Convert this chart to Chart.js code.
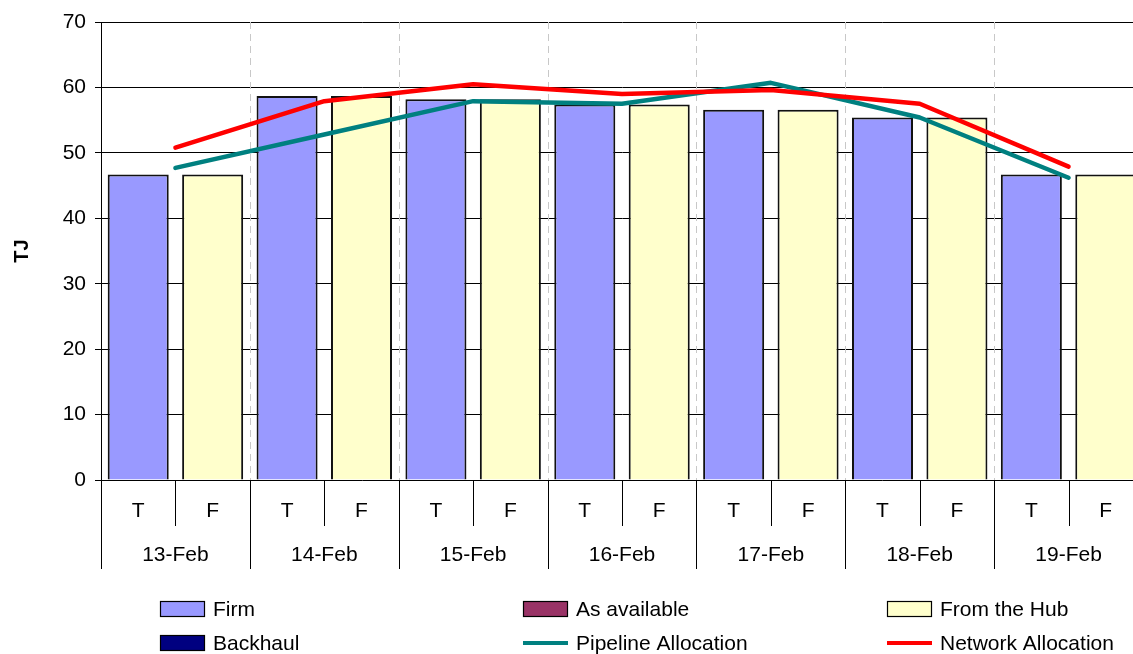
<!DOCTYPE html>
<html>
<head>
<meta charset="utf-8">
<script src="https://cdn.jsdelivr.net/npm/chart.js@4/dist/chart.umd.min.js"></script>
<style>
  html, body { margin: 0; padding: 0; background: #ffffff; overflow: hidden; }
  #wrap { position: absolute; left: 0; top: 0; width: 1150px; height: 654px; }
</style>
</head>
<body>
<div id="wrap"><canvas id="chart"></canvas></div>
<script>
// Gas day categories and the two nomination types shown under each day
const days = ['13-Feb', '14-Feb', '15-Feb', '16-Feb', '17-Feb', '18-Feb', '19-Feb'];
const nominationTypes = ['T', 'F'];

// Bar series (TJ): Firm sits on the T slot, As available / From the Hub / Backhaul on the F slot
const firmTJ        = [46.7, 58.7, 58.2, 57.4, 56.6, 55.4, 46.7];
const asAvailableTJ = [0, 0, 0, 0, 0, 0, 0];
const fromHubTJ     = [46.7, 58.7, 58.2, 57.4, 56.6, 55.4, 46.7];
const backhaulTJ    = [0, 0, 0, 0, 0, 0, 0];

// Allocation lines (TJ), one point per day
const pipelineAllocationTJ = [47.7, 52.8, 57.9, 57.5, 60.7, 55.4, 46.2];
const networkAllocationTJ  = [50.8, 57.9, 60.5, 59.0, 59.6, 57.5, 47.9];

// Value axis
const yMin = 0, yMax = 70, yStep = 10;

const FONT = '"Liberation Sans", Arial, sans-serif';

// Expand the per-day values onto the T/F category slots
const slotLabels = [];
days.forEach(() => nominationTypes.forEach(t => slotLabels.push(t)));
function onSlot(values, slot) {
  const out = [];
  values.forEach(v => { nominationTypes.forEach((t, i) => out.push(i === slot ? v : null)); });
  return out;
}

const legendItems = [];

// Draws the dashed day dividers behind the bars
const dayDividers = {
  id: 'dayDividers',
  beforeDatasetsDraw(chart) {
    const { ctx, chartArea } = chart;
    const x = chart.scales.x;
    const per = nominationTypes.length;
    const half = (x.getPixelForValue(1) - x.getPixelForValue(0)) / 2;
    ctx.save();
    ctx.strokeStyle = '#c8c8c8';
    ctx.lineWidth = 1;
    ctx.setLineDash([7, 5]);
    for (let d = 1; d < days.length; d++) {
      const px = Math.round(x.getPixelForValue(d * per) - half) + 0.5;
      ctx.beginPath();
      ctx.moveTo(px, chartArea.top);
      ctx.lineTo(px, chartArea.bottom);
      ctx.stroke();
    }
    ctx.restore();
  }
};

// Two-level category axis (T/F row, day row) with separators, plus the legend
const groupedAxis = {
  id: 'groupedAxis',
  afterDraw(chart) {
    const { ctx, chartArea } = chart;
    const x = chart.scales.x;
    const per = nominationTypes.length;
    const half = (x.getPixelForValue(1) - x.getPixelForValue(0)) / 2;
    const bottom = chartArea.bottom;
    const row1 = bottom + 31, row2 = bottom + 75;
    const sepShort = bottom + 46, sepLong = bottom + 89;

    ctx.save();
    ctx.strokeStyle = '#000000';
    ctx.lineWidth = 1;
    for (let i = 0; i <= slotLabels.length; i++) {
      const base = i < slotLabels.length ? x.getPixelForValue(i) - half : x.getPixelForValue(i - 1) + half;
      const px = Math.round(base) + 0.5;
      ctx.beginPath();
      ctx.moveTo(px, bottom);
      ctx.lineTo(px, i % per === 0 ? sepLong : sepShort);
      ctx.stroke();
    }
    ctx.fillStyle = '#000000';
    ctx.font = '21px ' + FONT;
    ctx.textAlign = 'center';
    ctx.textBaseline = 'middle';
    slotLabels.forEach((lab, i) => ctx.fillText(lab, x.getPixelForValue(i), row1));
    days.forEach((d, k) => {
      const cx = (x.getPixelForValue(k * per) + x.getPixelForValue(k * per + per - 1)) / 2;
      ctx.fillText(d, cx, row2);
    });

    // Legend: three columns, two rows
    const cols = [160, 523, 887];
    const rows = [609, 643];
    ctx.textAlign = 'left';
    legendItems.forEach((it, n) => {
      const lx = cols[n % 3], ly = rows[Math.floor(n / 3)];
      if (it.kind === 'box') {
        ctx.fillStyle = it.color;
        ctx.fillRect(lx + 0.5, ly - 7.5, 44, 15);
        ctx.strokeStyle = '#000000';
        ctx.lineWidth = 1.2;
        ctx.strokeRect(lx + 0.5, ly - 7.5, 44, 15);
      } else {
        ctx.strokeStyle = it.color;
        ctx.lineWidth = 4;
        ctx.lineCap = 'butt';
        ctx.beginPath();
        ctx.moveTo(lx, ly);
        ctx.lineTo(lx + 45, ly);
        ctx.stroke();
      }
      ctx.fillStyle = '#000000';
      ctx.fillText(it.label, lx + 53, ly + 1);
    });
    ctx.restore();
  }
};

const datasets = [
  { type: 'bar', label: 'Firm', data: onSlot(firmTJ, 0), backgroundColor: '#9999ff', borderColor: '#111111', borderWidth: 2, order: 2 },
  { type: 'bar', label: 'As available', data: onSlot(asAvailableTJ, 1), backgroundColor: '#993366', borderColor: '#111111', borderWidth: 0, order: 2 },
  { type: 'bar', label: 'From the Hub', data: onSlot(fromHubTJ, 1), backgroundColor: '#ffffcc', borderColor: '#111111', borderWidth: 2, order: 2 },
  { type: 'bar', label: 'Backhaul', data: onSlot(backhaulTJ, 1), backgroundColor: '#000080', borderColor: '#111111', borderWidth: 0, order: 2 },
  { type: 'line', label: 'Pipeline Allocation', data: pipelineAllocationTJ, xAxisID: 'x2',
    borderColor: '#008080', borderWidth: 4.5, pointRadius: 0, tension: 0, fill: false, borderCapStyle: 'round', borderJoinStyle: 'round', order: 1 },
  { type: 'line', label: 'Network Allocation', data: networkAllocationTJ, xAxisID: 'x2',
    borderColor: '#ff0000', borderWidth: 4.5, pointRadius: 0, tension: 0, fill: false, borderCapStyle: 'round', borderJoinStyle: 'round', order: 0 }
];
datasets.forEach(ds => legendItems.push({ label: ds.label, color: ds.type === 'bar' ? ds.backgroundColor : ds.borderColor, kind: ds.type === 'bar' ? 'box' : 'line' }));

new Chart(document.getElementById('chart'), {
  type: 'bar',
  data: { labels: slotLabels, datasets },
  plugins: [dayDividers, groupedAxis],
  options: {
    responsive: true,
    maintainAspectRatio: false,
    animation: false,
    devicePixelRatio: 1,
    layout: { padding: { top: 22, right: 7, bottom: 0, left: 0 } },
    datasets: { bar: { grouped: false, barPercentage: 0.82, categoryPercentage: 1.0 } },
    plugins: { legend: { display: false }, tooltip: { enabled: false }, title: { display: false } },
    scales: {
      x: {
        type: 'category',
        offset: true,
        grid: { display: false },
        border: { display: false },
        ticks: { display: false },
        afterFit(scale) { scale.height = 174; }
      },
      x2: {
        type: 'category',
        labels: days,
        offset: true,
        display: false
      },
      y: {
        min: yMin,
        max: yMax,
        ticks: { stepSize: yStep, color: '#000000', padding: 9, font: { family: FONT, size: 21 } },
        grid: { color: '#000000', lineWidth: 1, tickLength: 6, drawTicks: true },
        border: { display: true, color: '#000000', width: 1 },
        title: { display: true, text: 'TJ', color: '#000000', font: { family: FONT, size: 20, weight: 'bold' }, padding: { top: 10, bottom: 0 } },
        afterFit(scale) { scale.width = 101; }
      }
    }
  }
});
</script>
</body>
</html>
